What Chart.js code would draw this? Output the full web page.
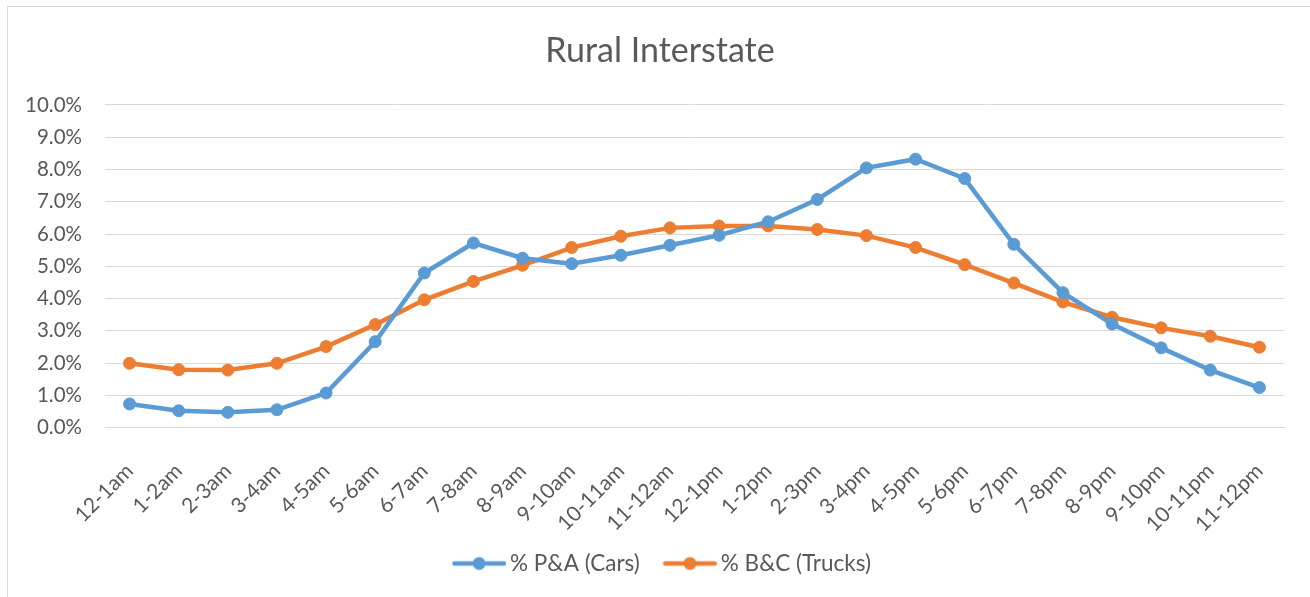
<!DOCTYPE html>
<html><head><meta charset="utf-8">
<script src="https://cdn.jsdelivr.net/npm/chart.js@4/dist/chart.umd.min.js"></script>
<style>
html,body{margin:0;padding:0;background:#fff;overflow:hidden;width:1310px;height:597px}
#frame{position:absolute;left:7px;top:6px;width:1400px;height:700px;border:1px solid #d9d9d9;box-sizing:border-box}
#wrap{position:absolute;left:0;top:0;width:1310px;height:597px}
</style></head><body>
<div id="frame"></div>
<div id="wrap"><canvas id="c" width="1310" height="597"></canvas></div>
<script>
const chartTitle = 'Rural Interstate';
const categories = ['12-1am','1-2am','2-3am','3-4am','4-5am','5-6am','6-7am','7-8am','8-9am','9-10am','10-11am','11-12am',
  '12-1pm','1-2pm','2-3pm','3-4pm','4-5pm','5-6pm','6-7pm','7-8pm','8-9pm','9-10pm','10-11pm','11-12pm'];
const seriesNames = ['% P&A (Cars)', '% B&C (Trucks)'];
const carsPct = [0.73,0.52,0.47,0.55,1.07,2.66,4.79,5.72,5.25,5.08,5.34,5.65,5.96,6.38,7.07,8.05,8.32,7.72,5.68,4.18,3.21,2.47,1.78,1.24];
const trucksPct = [1.99,1.79,1.78,1.99,2.51,3.19,3.96,4.53,5.03,5.58,5.93,6.19,6.25,6.25,6.14,5.95,5.58,5.05,4.48,3.89,3.42,3.09,2.83,2.49];
const yMin = 0, yMax = 10, yStep = 1;

const colors = ['#5B9BD5', '#ED7D31'];
const textColor = '#595959';
const gridColor = '#D9D9D9';
const fontFamily = "Lato, 'Open Sans', sans-serif";

// legend marker: line with a dot, drawn into a small canvas used as the point style
function legendIcon(color){
  const c = document.createElement('canvas');
  c.width = 70; c.height = 16;
  const g = c.getContext('2d');
  g.strokeStyle = color; g.lineWidth = 4.5; g.lineCap = 'round';
  g.beginPath(); g.moveTo(15.5,8); g.lineTo(65,8); g.stroke();
  g.fillStyle = color; g.beginPath(); g.arc(40.2,8,6.5,0,Math.PI*2); g.fill();
  return c;
}
const icons = colors.map(legendIcon);

new Chart(document.getElementById('c'), {
  type: 'line',
  data: {
    labels: categories,
    datasets: [
      {label: seriesNames[0], data: carsPct, borderColor: colors[0], backgroundColor: colors[0],
       borderWidth: 4.5, pointRadius: 6, pointHoverRadius: 6, pointBorderWidth: 1, tension: 0},
      {label: seriesNames[1], data: trucksPct, borderColor: colors[1], backgroundColor: colors[1],
       borderWidth: 4.5, pointRadius: 6, pointHoverRadius: 6, pointBorderWidth: 1, tension: 0}
    ]
  },
  options: {
    responsive: false,
    animation: false,
    layout: {padding: {top: 0, right: 0, bottom: 12.25, left: 10}},
    plugins: {
      title: {display: true, text: chartTitle, color: textColor,
        font: {family: fontFamily, size: 34, weight: 'normal', lineHeight: 1.2},
        padding: {top: 30.9, bottom: 33.3}},
      legend: {position: 'bottom',
        labels: {color: textColor, font: {family: fontFamily, size: 22.5}, usePointStyle: true,
          pointStyleWidth: 49.75, padding: 20,
          generateLabels: (chart) => {
            const items = Chart.defaults.plugins.legend.labels.generateLabels(chart);
            items.forEach((it, i) => { it.pointStyle = icons[i]; it.rotation = 0; });
            return items;
          }}},
      tooltip: {enabled: false}
    },
    scales: {
      x: {offset: true,
        grid: {display: false, drawTicks: false},
        border: {display: true, color: gridColor},
        ticks: {color: textColor, font: {family: fontFamily, size: 21}, minRotation: 45, maxRotation: 45, padding: 31, autoSkip: false},
        afterFit: (s) => { s.height = 104.75; }
      },
      y: {min: yMin, max: yMax,
        grid: {color: gridColor, lineWidth: 1, drawTicks: false},
        border: {display: false},
        ticks: {stepSize: yStep, color: textColor, font: {family: fontFamily, size: 20.5}, padding: 23,
          callback: (v) => v.toFixed(1) + '%'},
        afterFit: (s) => { s.width = 95; }
      },
      yRight: {type: 'linear', position: 'right', min: yMin, max: yMax, display: true,
        grid: {display: false, drawTicks: false}, border: {display: false},
        ticks: {display: false},
        afterFit: (s) => { s.width = 26; }
      }
    }
  }
});
</script>
</body></html>
